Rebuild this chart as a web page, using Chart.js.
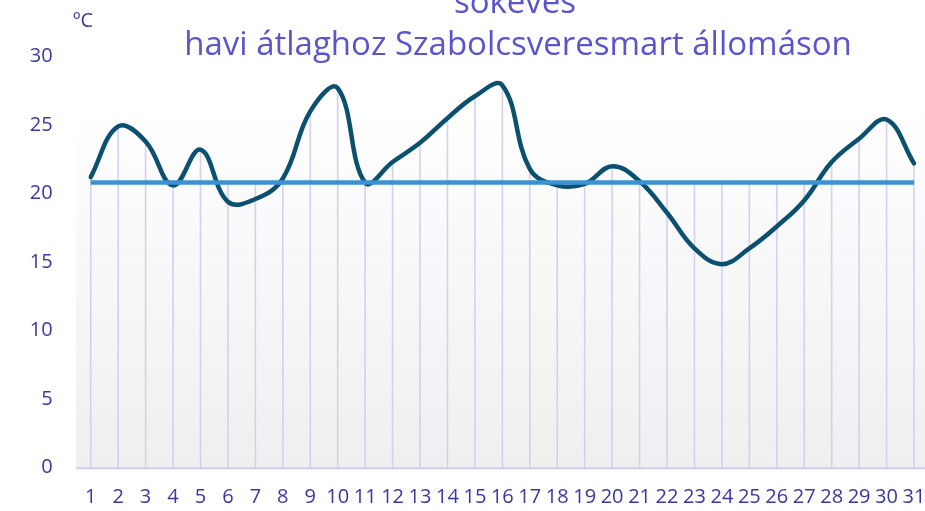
<!DOCTYPE html>
<html>
<head>
<meta charset="utf-8">
<script src="https://cdn.jsdelivr.net/npm/chart.js@4/dist/chart.umd.min.js"></script>
<style>
html,body{margin:0;padding:0;background:#fff;}
#wrap{position:relative;width:925px;height:511px;}
</style>
</head>
<body>
<div id="wrap"><canvas id="c" width="925" height="511"></canvas></div>
<script>
const days = ['1','2','3','4','5','6','7','8','9','10','11','12','13','14','15','16','17','18','19','20','21','22','23','24','25','26','27','28','29','30','31'];
const dailyTemp = [21.2,24.9,23.8,20.6,23.2,19.4,19.6,21.1,26.0,27.7,20.8,22.3,23.7,25.5,27.1,27.9,21.8,20.6,20.7,22.0,20.9,18.6,16.0,14.85,16.0,17.6,19.5,22.3,24.0,25.4,22.2];
const monthlyAvg = 20.8;
const avgSeries = days.map(() => monthlyAvg);
const yTicks = [0,5,10,15,20,25,30];
const titleLines = ['sokéves', 'havi átlaghoz Szabolcsveresmart állomáson'];
const unitLabel = 'ºC';

const FONT = "'Open Sans', 'DejaVu Sans', sans-serif";
const TICK_COLOR = '#3b37a0';
const TITLE_COLOR = '#5a55cc';
const GRID_COLOR = '#d3d0f0';

const bgPlugin = {
  id: 'bgPlugin',
  beforeDatasetsDraw(chart) {
    const {ctx, chartArea, scales} = chart;
    const x0 = chartArea.left - 14.7;
    const x1 = chart.width;
    const top = chartArea.top + 51;
    const bottom = chartArea.bottom;
    ctx.save();
    const g = ctx.createLinearGradient(0, top, 0, bottom);
    g.addColorStop(0, '#ffffff');
    g.addColorStop(1, '#efefef');
    ctx.fillStyle = g;
    ctx.fillRect(x0, top, x1 - x0, bottom - top);
    ctx.strokeStyle = GRID_COLOR;
    ctx.lineWidth = 1.6;
    const y0 = scales.y.getPixelForValue(0);
    dailyTemp.forEach((v, i) => {
      const x = scales.x.getPixelForValue(i);
      const yt = scales.y.getPixelForValue(Math.max(v, monthlyAvg));
      ctx.beginPath();
      ctx.moveTo(x, yt);
      ctx.lineTo(x, y0);
      ctx.stroke();
    });
    ctx.strokeStyle = '#cfcbef';
    ctx.lineWidth = 2;
    ctx.beginPath();
    ctx.moveTo(x0, y0 + 0.5);
    ctx.lineTo(x1, y0 + 0.5);
    ctx.stroke();
    ctx.restore();
  }
};

const textPlugin = {
  id: 'textPlugin',
  afterDraw(chart) {
    const {ctx} = chart;
    ctx.save();
    ctx.fillStyle = TITLE_COLOR;
    ctx.textAlign = 'center';
    ctx.textBaseline = 'alphabetic';
    ctx.font = '33px ' + FONT;
    ctx.fillText(titleLines[0], 515, 13);
    ctx.fillText(titleLines[1], 518, 55);
    ctx.fillStyle = TICK_COLOR;
    ctx.textAlign = 'left';
    ctx.font = '20px ' + FONT;
    ctx.fillText(unitLabel, 73, 27);
    ctx.restore();
  }
};

new Chart(document.getElementById('c'), {
  type: 'line',
  data: {
    labels: days,
    datasets: [
      {
        label: 'Havi átlag',
        data: avgSeries,
        borderColor: '#3a92d2',
        borderWidth: 4.5,
        pointRadius: 0,
        tension: 0,
        order: 1
      },
      {
        label: 'Napi középhőmérséklet',
        data: dailyTemp,
        borderColor: '#0c5070',
        borderWidth: 4.5,
        pointRadius: 0,
        tension: 0.4,
        borderCapStyle: 'round',
        order: 2
      }
    ]
  },
  plugins: [bgPlugin, textPlugin],
  options: {
    responsive: false,
    animation: false,
    events: [],
    layout: { padding: { top: 56.5, right: 0, left: 0, bottom: 0 } },
    plugins: {
      legend: { display: false },
      title: { display: false },
      tooltip: { enabled: false }
    },
    scales: {
      x: {
        type: 'category',
        offset: false,
        grid: { display: false, drawTicks: false },
        border: { display: false },
        ticks: {
          color: TICK_COLOR,
          font: { family: FONT, size: 20 },
          padding: 18,
          autoSkip: false,
          maxRotation: 0
        },
        afterFit(scale) {
          scale.height = 43.3;
          scale.paddingLeft = 0;
          scale.paddingRight = 11;
        }
      },
      y: {
        min: 0,
        max: 30,
        afterBuildTicks(scale) { scale.ticks = yTicks.map(v => ({ value: v })); },
        grid: { display: false, drawTicks: false },
        border: { display: false },
        ticks: {
          color: TICK_COLOR,
          font: { family: FONT, size: 20 },
          padding: 38
        },
        afterFit(scale) {
          scale.width = 90.7;
          scale.paddingTop = 0;
          scale.paddingBottom = 0;
        }
      }
    }
  }
});
</script>
</body>
</html>
